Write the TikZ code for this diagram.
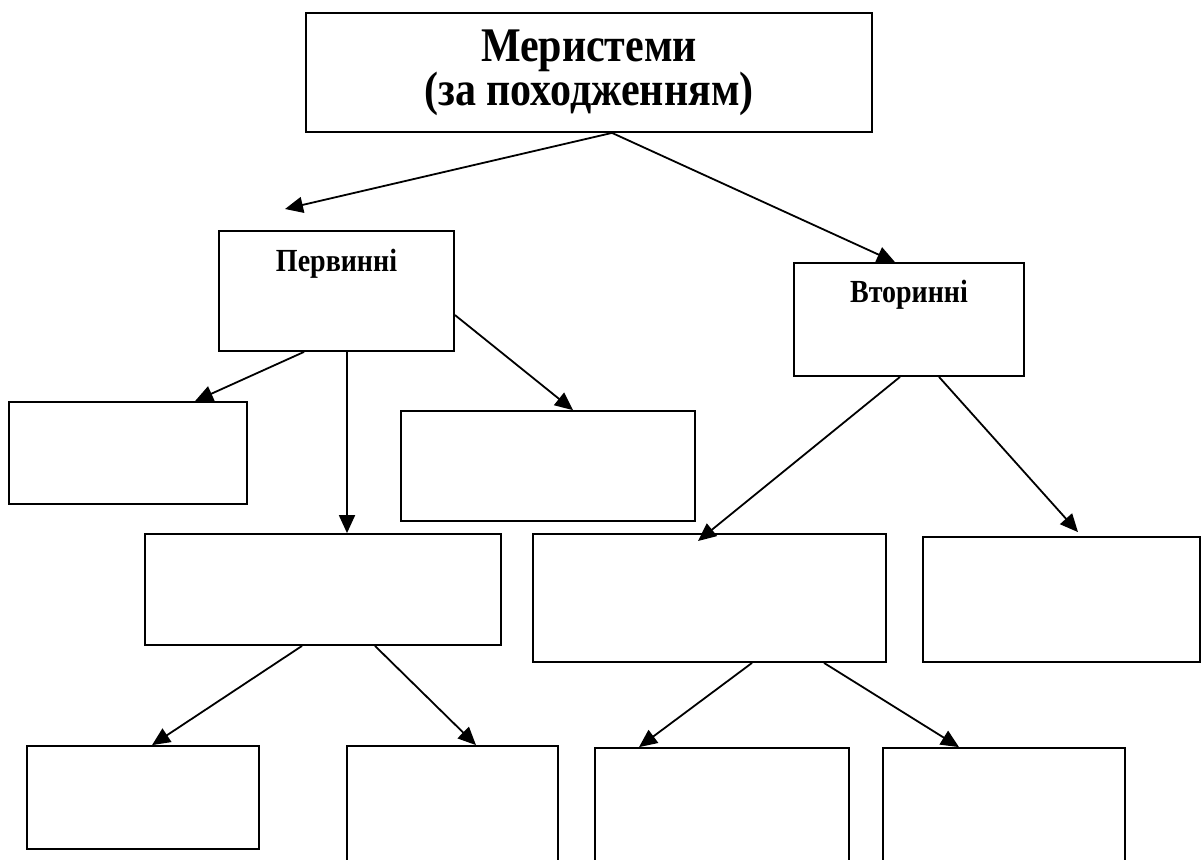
\documentclass[tikz,border=0pt]{standalone}
\usepackage{fontspec}
\usepackage{graphicx}
\setmainfont{Liberation Serif}
\usetikzlibrary{arrows.meta}
\newcommand{\tallt}[1]{\scalebox{1}[1.15]{#1}}
\begin{document}
\begin{tikzpicture}[x=0.5pt,y=-0.5pt,
  box/.style={draw, line width=0.9pt, rectangle, inner sep=0pt},
  arr/.style={line width=0.9pt, -{Triangle[length=9pt,width=8pt]}},
  ttl/.style={font=\bfseries\fontsize{21}{24}\selectfont, inner sep=0pt, anchor=base},
  lbl/.style={font=\bfseries\fontsize{14}{17}\selectfont, inner sep=0pt, anchor=base}]
\useasboundingbox (0,0) rectangle (1202,859);
\fill[white] (0,0) rectangle (1202,859);
\clip (0,0) rectangle (1202,859);
% boxes
\node[box, minimum width=283pt, minimum height=59.5pt] (top) at (589,72.5) {};
\node[box, minimum width=117.5pt, minimum height=60pt] (prim) at (336.5,291) {};
\node[box, minimum width=115pt, minimum height=56.5pt] (sec) at (909,319.5) {};
\node[box, minimum width=119pt, minimum height=51pt] (b1) at (128,453) {};
\node[box, minimum width=147pt, minimum height=55pt] (b2) at (548,466) {};
\node[box, minimum width=178pt, minimum height=55.5pt] (b3) at (323,589.5) {};
\node[box, minimum width=176.5pt, minimum height=64pt] (b4) at (709.5,598) {};
\node[box, minimum width=138.5pt, minimum height=62.5pt] (b5) at (1061.5,599.5) {};
\node[box, minimum width=116pt, minimum height=51.5pt] (c1) at (143,797.5) {};
\node[box, minimum width=105.5pt, minimum height=77pt] (c2) at (452.5,823) {};
\node[box, minimum width=127pt, minimum height=76pt] (c3) at (722,824) {};
\node[box, minimum width=121pt, minimum height=76pt] (c4) at (1004,824) {};
% texts
\node[ttl] (t1) at (589,61) {\tallt{Меристеми}};
\node[ttl] (t2) at (589,105) {\tallt{(за походженням)}};
\node[lbl] (pl) at (336.5,271) {\tallt{Первинні}};
\node[lbl] (sl) at (909,302) {\tallt{Вторинні}};
% free ends
\coordinate (e1) at (285,209);
\coordinate (e2) at (698,541);
% connectors
\draw[arr] ([xshift=11.5pt]top.south) -- (e1);
\draw[arr] ([xshift=11.5pt]top.south) -- ([xshift=-7pt]sec.north);
\draw[arr] ([xshift=-16.25pt]prim.south) -- ([xshift=33.5pt]b1.north);
\draw[arr] ([xshift=5.25pt]prim.south) -- ([xshift=5.25pt]prim.south |- b3.north);
\draw[arr] ([yshift=-12pt]prim.east) -- ([xshift=12.5pt]b2.north);
\draw[arr] ([xshift=-4.5pt]sec.south) -- (e2);
\draw[arr] ([xshift=15pt]sec.south) -- ([xshift=8.25pt,yshift=2pt]b5.north);
\draw[arr] ([xshift=-10.5pt]b3.south) -- ([xshift=4.5pt]c1.north);
\draw[arr] ([xshift=26pt]b3.south) -- ([xshift=11.75pt]c2.north);
\draw[arr] ([xshift=21.25pt]b4.south) -- ([xshift=-41.5pt]c3.north);
\draw[arr] ([xshift=57.25pt]b4.south) -- ([xshift=-22.5pt]c4.north);
\end{tikzpicture}
\end{document}
